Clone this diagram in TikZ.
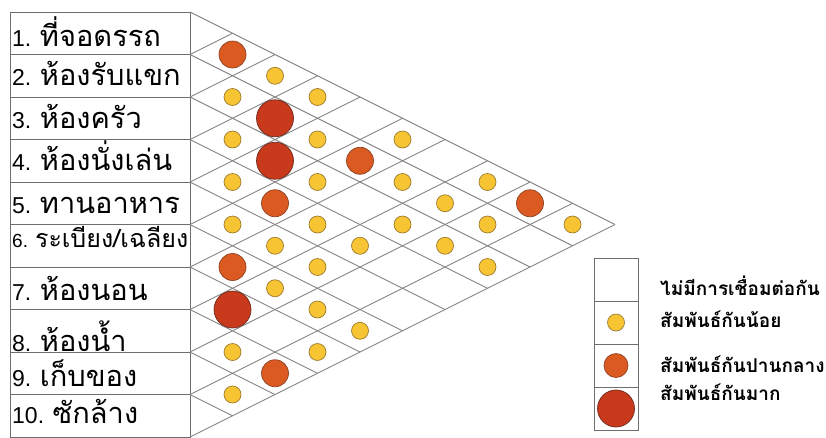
\documentclass[tikz,border=0pt]{standalone}
\usepackage{fontspec}
\setmainfont{Liberation Sans}
\newfontfamily\thai[Script=Thai]{Loma}
\definecolor{gridc}{HTML}{858585}
\definecolor{boxc}{HTML}{6E6E6E}
\definecolor{yelF}{HTML}{F7C434}
\definecolor{yelD}{HTML}{9C7A2A}
\definecolor{oraF}{HTML}{DA5A22}
\definecolor{oraD}{HTML}{8E4322}
\definecolor{redF}{HTML}{C93A1C}
\definecolor{redD}{HTML}{6E2A1C}
\newcommand\thl[1]{{\fontsize{29}{29}\selectfont\thai #1}}
\begin{document}
\begin{tikzpicture}[x=1pt,y=-1pt,
  gridline/.style={draw=gridc,line width=0.9pt},
  boxline/.style={draw=boxc,line width=1pt},
  dotS/.style={circle,draw=yelD,fill=yelF,line width=0.7pt,minimum size=17pt,inner sep=0pt},
  dotM/.style={circle,draw=oraD,fill=oraF,line width=0.7pt,minimum size=27pt,inner sep=0pt},
  dotL/.style={circle,draw=redD,fill=redF,line width=0.7pt,minimum size=37pt,inner sep=0pt},
  lab/.style={anchor=base west,inner sep=0pt,font=\fontsize{23}{23}\selectfont},
  leg/.style={anchor=base west,inner sep=0pt,font=\fontsize{19}{19}\selectfont\thai\bfseries}]
\useasboundingbox (0,0) rectangle (826,437);
\def\hh{42.5}
% label column
\draw[boxline] (10,12) rectangle (190,437);
\foreach \k in {1,...,9} \draw[boxline] (10,{12+\k*\hh}) -- (190,{12+\k*\hh});
% triangular grid
\foreach \k in {0,...,10} {
  \draw[gridline] (190,{12+\k*\hh}) -- ++({(10-\k)*\hh},{(10-\k)*\hh/2});
  \draw[gridline] (190,{12+\k*\hh}) -- ++({\k*\hh},{-\k*\hh/2});
}
% labels
\node[lab] (r1) at (12,{12+0*\hh+34.5}) {1. \thl{ที่จอดรรถ}};
\node[lab] (r2) at (12,{12+1*\hh+31}) {2. \thl{ห้องรับแขก}};
\node[lab] (r3) at (12,{12+2*\hh+31}) {3. \thl{ห้องครัว}};
\node[lab] (r4) at (12,{12+3*\hh+31}) {4. \thl{ห้องนั่งเล่น}};
\node[lab] (r5) at (12,{12+4*\hh+31}) {5. \thl{ทานอาหาร}};
\node[lab,font=\fontsize{19}{19}\selectfont] (r6) at (12,{12+5*\hh+22.5}) {6. {\fontsize{25}{25}\selectfont\thai ระเบียง/เฉลียง}};
\node[lab] (r7) at (12,{12+6*\hh+33}) {7. \thl{ห้องนอน}};
\node[lab] (r8) at (12,{12+7*\hh+41.5}) {8. \thl{ห้องน้ำ}};
\node[lab] (r9) at (12,{12+8*\hh+34.5}) {9. \thl{เก็บของ}};
\node[lab] (r10) at (12,{12+9*\hh+29}) {10. \thl{ซักล้าง}};
% relation dots
\foreach \i/\j in {1/3,2/3,1/4,3/4,2/5,1/6,4/5,3/6,2/7,1/8,2/8,5/6,4/7,3/8,2/9,1/10,5/7,4/8,3/9,5/8,3/10,6/8,6/9,6/10,8/9,7/10,9/10}
  \node[dotS] (d\i-\j) at ({190+(\j-\i)*\hh},{12+(\i+\j-1)*\hh/2}) {};
\foreach \i/\j in {1/2,2/6,4/6,1/9,6/7,8/10}
  \node[dotM] (d\i-\j) at ({190+(\j-\i)*\hh},{12+(\i+\j-1)*\hh/2}) {};
\foreach \i/\j in {2/4,3/5,7/8}
  \node[dotL] (d\i-\j) at ({190+(\j-\i)*\hh},{12+(\i+\j-1)*\hh/2}) {};
% legend
\draw[boxline] (594,258) rectangle (638,430);
\foreach \yy in {301,344,387} \draw[boxline] (594,\yy) -- (638,\yy);
\node[dotS] (ls) at (616,322.5) {};
\node[dotM,minimum size=24pt] (lm) at (616,365.5) {};
\node[dotL] (ll) at (616,408.5) {};
\node[leg] (t0) at (660,295) {ไม่มีการเชื่อมต่อกัน};
\node[leg] (t1) at (660,327) {สัมพันธ์กันน้อย};
\node[leg] (t2) at (660,372) {สัมพันธ์กันปานกลาง};
\node[leg] (t3) at (660,400) {สัมพันธ์กันมาก};
\end{tikzpicture}
\end{document}
